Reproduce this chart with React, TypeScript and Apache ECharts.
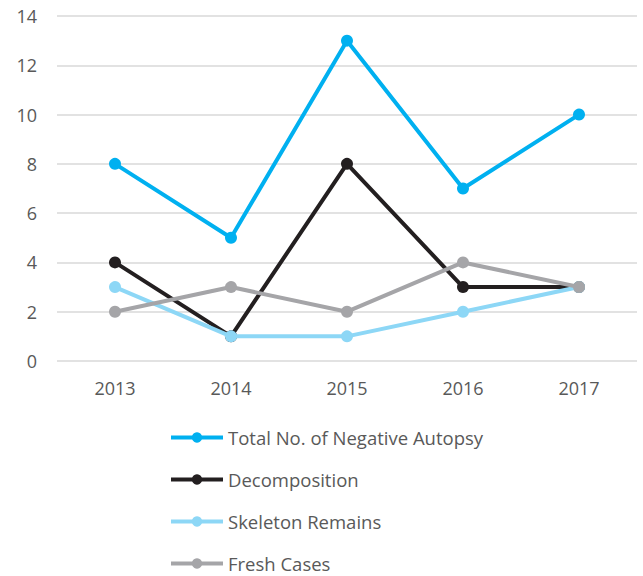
import React, { useEffect, useRef } from "react";
import * as echarts from "echarts";

const categories = ["2013", "2014", "2015", "2016", "2017"];
const totalNegative = [8, 5, 13, 7, 10];
const decomposition = [4, 1, 8, 3, 3];
const skeleton = [3, 1, 1, 2, 3];
const fresh = [2, 3, 2, 4, 3];
const seriesNames = ["Total No. of Negative Autopsy", "Decomposition", "Skeleton Remains", "Fresh Cases"];
const colors = ["#00B0F0", "#231F20", "#8DD7F6", "#A5A5A8"];

export default function App() {
  const ref = useRef<HTMLDivElement>(null);
  useEffect(() => {
    if (!ref.current) return;
    const chart = echarts.init(ref.current, null, { renderer: "svg" });
    const data = [totalNegative, decomposition, skeleton, fresh];
    chart.setOption({
      animation: false,
      textStyle: { fontFamily: "Open Sans" },
      grid: { left: 57, right: 6, top: 16, bottom: 215 },
      xAxis: {
        type: "category",
        data: categories,
        axisLine: { show: false },
        axisTick: { show: false },
        axisLabel: { color: "#595959", fontSize: 18, margin: 18 },
      },
      yAxis: {
        type: "value",
        min: 0,
        max: 14,
        interval: 2,
        axisLine: { show: false },
        axisTick: { show: false },
        splitLine: { lineStyle: { color: "#D9D9D9", width: 1.5 } },
        axisLabel: { color: "#595959", fontSize: 18, margin: 20 },
      },
      legend: {
        orient: "vertical",
        left: 169,
        top: 428,
        padding: 0,
        itemWidth: 52,
        itemHeight: 13,
        itemGap: 23,
        lineStyle: { width: 4 },
        textStyle: { color: "#595959", fontSize: 18.5 },
        data: seriesNames,
      },
      series: seriesNames.map((name, i) => ({
        name,
        type: "line",
        data: data[i],
        color: colors[i],
        symbol: "circle",
        symbolSize: 12,
        lineStyle: { width: 4, color: colors[i] },
        itemStyle: { color: colors[i] },
        z: 2 + i,
      })),
    });
    return () => chart.dispose();
  }, []);
  return <div ref={ref} style={{ width: 643, height: 576, position: "absolute", left: 0, top: 0 }} />;
}
